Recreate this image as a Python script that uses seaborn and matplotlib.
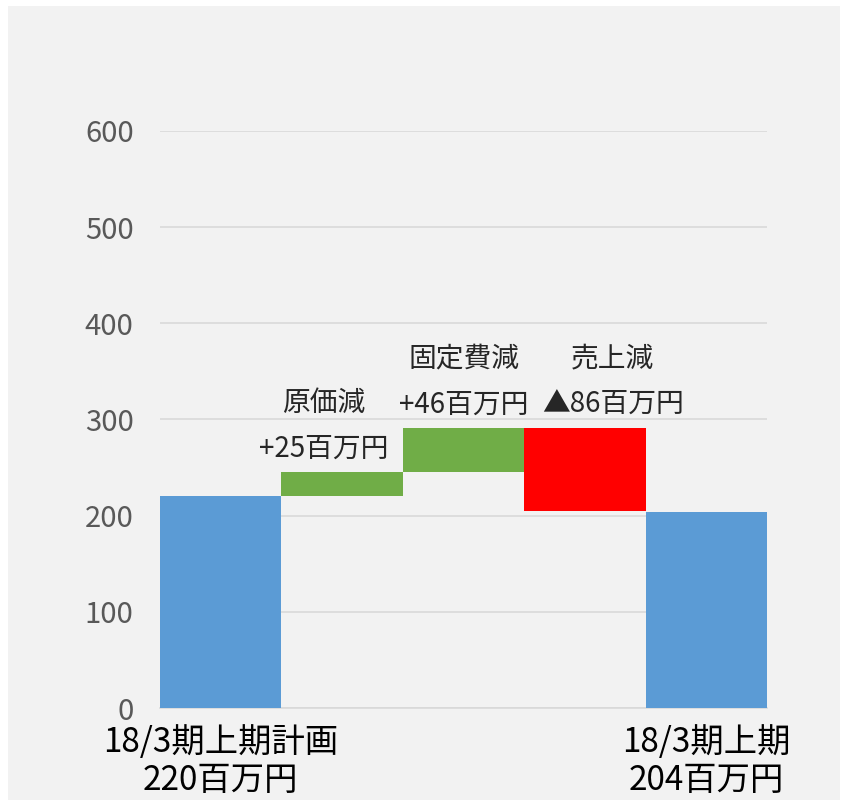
import numpy as np
import pandas as pd
import seaborn as sns
from matplotlib import pyplot as plt
from matplotlib.patches import Rectangle

# waterfall data (百万円)
categories = ['18/3期上期計画', '原価減', '固定費減', '売上減', '18/3期上期']
bottoms = [0, 220, 245, 291, 0]
heights = [220, 25, 46, -86, 204]
colors = ['#5b9bd5', '#70ad47', '#70ad47', '#ff0000', '#5b9bd5']
tick_labels = ['18/3期上期計画\n220百万円', '', '', '', '18/3期上期\n204百万円']
bar_labels = ['', '原価減\n+25百万円', '固定費減\n+46百万円', '売上減\n▲86百万円', '']
# horizontal nudge of each bar label (points), as placed in the original
label_dx = [0, -13, 0, 20, 0]

sns.set_style('white')
plt.rcParams['font.family'] = ['Noto Sans CJK JP', 'DejaVu Sans']

fig = plt.figure(figsize=(8.46, 8.08), dpi=100)
fig.patch.set_facecolor('white')
fig.patches.append(Rectangle((8 / 846, 8 / 808), 832 / 846, 794 / 808,
                             transform=fig.transFigure, facecolor='#f2f2f2',
                             edgecolor='none', zorder=-10))
ax = fig.add_axes([160 / 846, 1 - 708 / 808, 607 / 846, 577 / 808])
ax.set_facecolor('none')

df = pd.DataFrame({'cat': categories, 'h': heights})
sns.barplot(data=df, x='cat', y='h', hue='cat', palette=colors, width=1.0,
            saturation=1, legend=False, linewidth=0, ax=ax, zorder=3)
# move floating bars up to their base
for patch, b in zip(ax.patches, bottoms):
    patch.set_y(b)

ax.set_ylim(0, 600)
ax.set_xlim(-0.5, 4.5)
ax.set_yticks(range(0, 700, 100))
ax.yaxis.grid(True, color='#d9d9d9', linewidth=1.2, zorder=0)
ax.set_axisbelow(True)
for s in ['top', 'right', 'left']:
    ax.spines[s].set_visible(False)
ax.spines['bottom'].set_color('#d9d9d9')
ax.spines['bottom'].set_linewidth(1.2)
ax.tick_params(axis='y', length=0, labelsize=21, labelcolor='#595959', pad=19)
ax.set_xticks(range(5))
ax.set_xticklabels(tick_labels, fontsize=24, color='black', linespacing=1.12)
ax.tick_params(axis='x', length=0, pad=12)
ax.set_xlabel('')
ax.set_ylabel('')

for i, lab in enumerate(bar_labels):
    if not lab:
        continue
    top = max(bottoms[i], bottoms[i] + heights[i])
    ax.annotate(lab, (i, top), xytext=(label_dx[i], 6), textcoords='offset points',
                ha='center', va='bottom', fontsize=20, linespacing=1.7)

plt.savefig('out.png', dpi=100)
